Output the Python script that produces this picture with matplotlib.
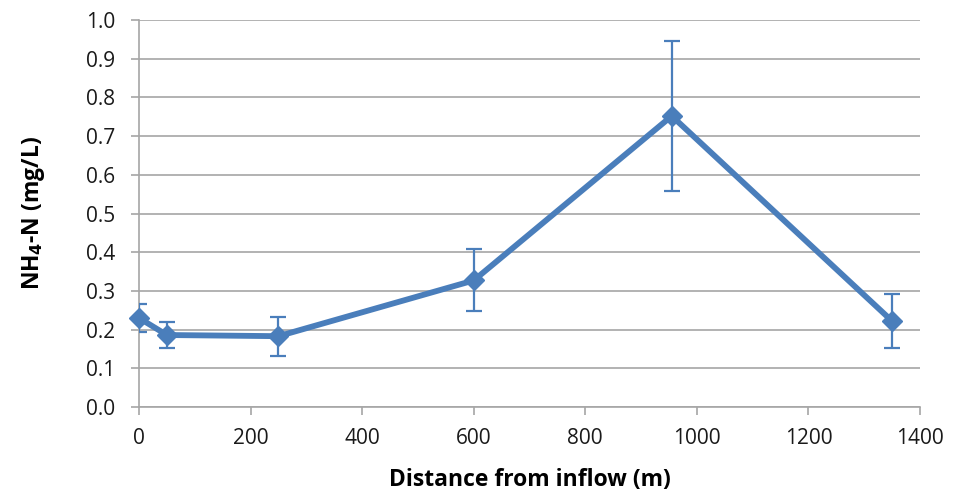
import matplotlib
matplotlib.use("Agg")
import matplotlib.pyplot as plt

distance = [0, 50, 250, 600, 955, 1350]
nh4 = [0.230, 0.186, 0.183, 0.327, 0.752, 0.222]
err = [0.035, 0.033, 0.050, 0.080, 0.195, 0.070]

xticks = [0, 200, 400, 600, 800, 1000, 1200, 1400]
yticks = [0.0, 0.1, 0.2, 0.3, 0.4, 0.5, 0.6, 0.7, 0.8, 0.9, 1.0]

plt.rcParams['font.family'] = ['Open Sans', 'DejaVu Sans']
fig = plt.figure(figsize=(9.68, 4.91), dpi=100)
ax = fig.add_axes([139/968, 1-407/491, (920-139)/968, (407-20)/491])

color = '#4A7EBB'
ax.errorbar(distance, nh4, yerr=err, fmt='none', ecolor=color, elinewidth=1.6,
            capsize=5.5, capthick=1.6, zorder=3)
ax.plot(distance, nh4, color=color, lw=4.2, marker='D', markersize=10,
        markerfacecolor=color, markeredgecolor=color, zorder=4, clip_on=False)

ax.set_xlim(0, 1400)
ax.set_ylim(0, 1.0)
ax.set_xticks(xticks)
ax.set_yticks(yticks)
ax.set_yticklabels([f"{v:.1f}" for v in yticks])
ax.grid(axis='y', color='#A6A6A6', lw=1.2)
ax.set_axisbelow(True)
for s in ['top', 'right']:
    ax.spines[s].set_visible(False)
for s in ['left', 'bottom']:
    ax.spines[s].set_color('#A6A6A6')
    ax.spines[s].set_linewidth(1.2)
ax.tick_params(axis='both', colors='#A6A6A6', labelcolor='#1a1a1a', labelsize=15,
               length=6, width=1.2, direction='out')
ax.tick_params(axis='y', pad=11)
ax.tick_params(axis='x', pad=9)
ax.set_xlabel('Distance from inflow (m)', fontsize=16.5, fontweight='bold')
ax.set_ylabel(r'NH$_\mathbf{4}$-N (mg/L)', fontsize=16.5, fontweight='bold')
ax.xaxis.set_label_coords(0.5, -0.157)
ax.yaxis.set_label_coords(-0.118, 0.5)

fig.savefig('out.png', dpi=100)
